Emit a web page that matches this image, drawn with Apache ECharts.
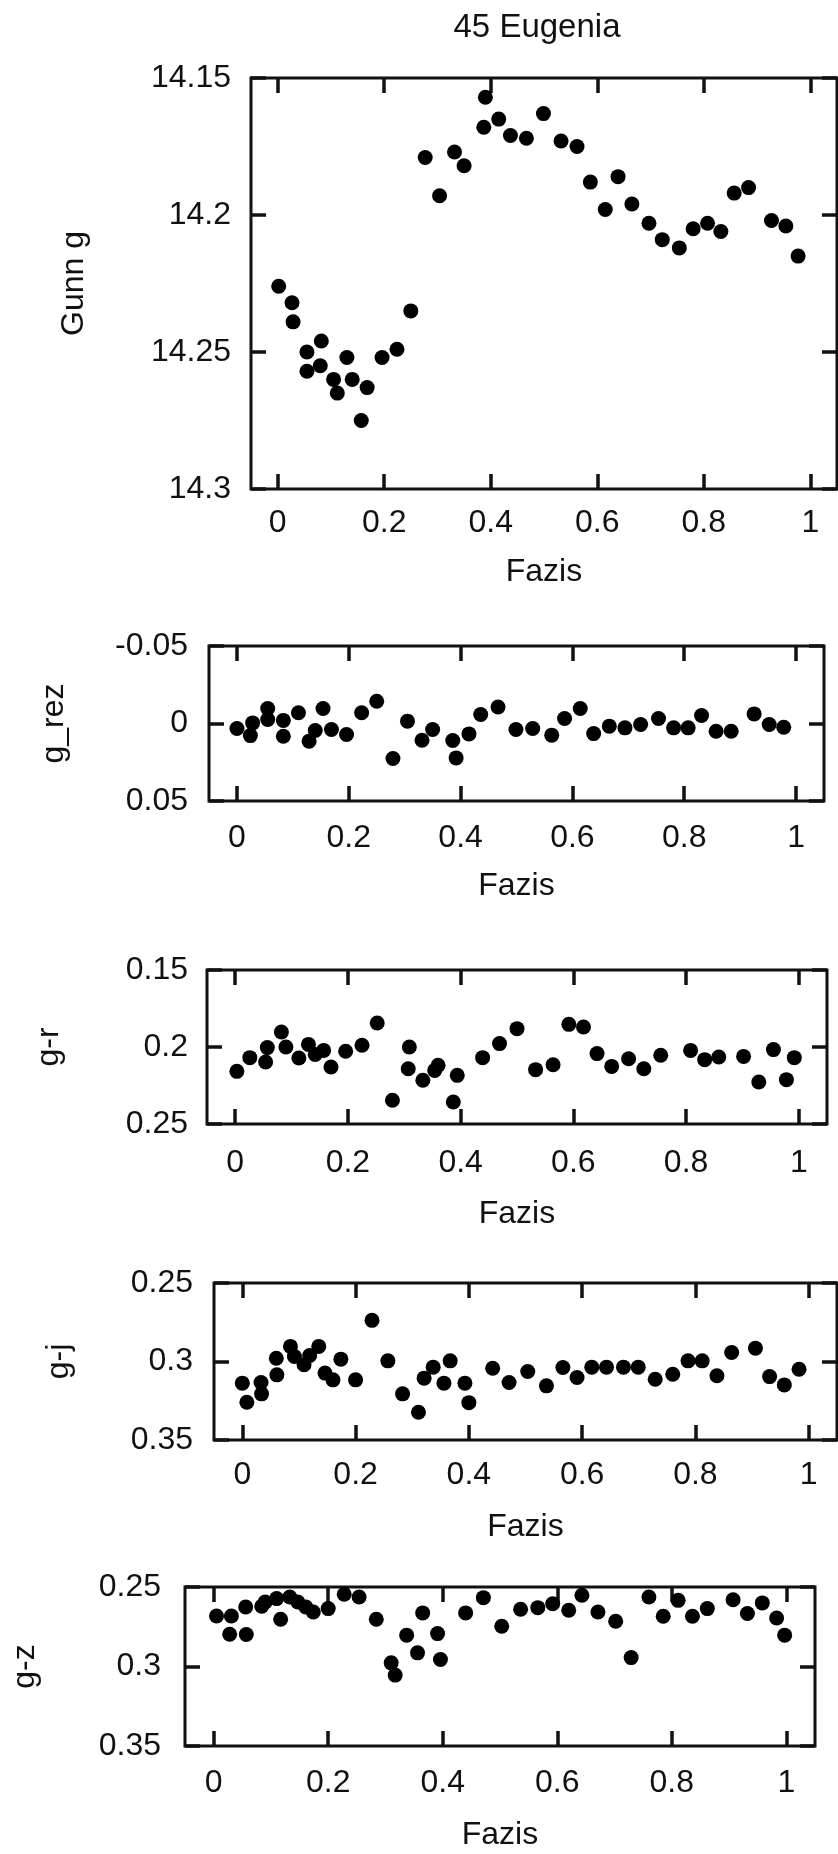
<!DOCTYPE html>
<html><head><meta charset="utf-8">
<script src="https://cdn.jsdelivr.net/npm/echarts@6/dist/echarts.min.js"></script>
<style>html,body{margin:0;padding:0;background:#fff}#c{width:838px;height:1854px}</style>
</head><body><div id="c"></div>
<script>
const titleText = '45 Eugenia';
const xName = 'Fazis';
const xTicks = [0, 0.2, 0.4, 0.6, 0.8, 1];

const phaseG = [0.002,0.027,0.029,0.055,0.055,0.080,0.082,0.105,0.112,0.130,0.140,0.157,0.168,0.196,0.224,0.250,0.277,0.304,0.332,0.350,0.387,0.390,0.415,0.437,0.467,0.499,0.532,0.562,0.587,0.615,0.639,0.665,0.697,0.722,0.754,0.780,0.807,0.832,0.857,0.884,0.927,0.954,0.977];
const gunnG = [14.226,14.232,14.239,14.250,14.257,14.255,14.246,14.260,14.265,14.252,14.260,14.275,14.263,14.252,14.249,14.235,14.179,14.193,14.177,14.182,14.168,14.157,14.165,14.171,14.172,14.163,14.173,14.175,14.188,14.198,14.186,14.196,14.203,14.209,14.212,14.205,14.203,14.206,14.192,14.190,14.202,14.204,14.215];

const phaseRez = [0.000,0.024,0.028,0.055,0.055,0.083,0.083,0.110,0.129,0.140,0.154,0.169,0.196,0.223,0.250,0.279,0.305,0.331,0.350,0.386,0.392,0.415,0.436,0.467,0.499,0.529,0.563,0.586,0.614,0.638,0.666,0.694,0.722,0.754,0.781,0.807,0.831,0.857,0.884,0.925,0.952,0.978];
const gRez = [0.0032,0.0078,-0.0004,-0.0097,-0.0026,0.0082,-0.0020,-0.0069,0.0114,0.0045,-0.0097,0.0039,0.0071,-0.0069,-0.0144,0.0226,-0.0015,0.0108,0.0039,0.0110,0.0222,0.0067,-0.0058,-0.0106,0.0039,0.0032,0.0075,-0.0032,-0.0097,0.0065,0.0017,0.0028,0.0006,-0.0032,0.0028,0.0028,-0.0052,0.0050,0.0050,-0.0062,0.0006,0.0024];

const phaseGR = [0.003,0.026,0.054,0.057,0.082,0.090,0.113,0.130,0.142,0.157,0.170,0.196,0.225,0.252,0.279,0.309,0.307,0.333,0.354,0.360,0.387,0.394,0.439,0.469,0.500,0.533,0.564,0.592,0.618,0.642,0.668,0.698,0.725,0.755,0.808,0.833,0.858,0.902,0.929,0.955,0.978,0.992];
const gr = [0.2158,0.2069,0.2097,0.2004,0.1903,0.2000,0.2071,0.1983,0.2048,0.2022,0.2130,0.2028,0.1989,0.1844,0.2346,0.2000,0.2141,0.2216,0.2152,0.2119,0.2357,0.2184,0.2069,0.1978,0.1881,0.2147,0.2115,0.1853,0.1870,0.2043,0.2126,0.2076,0.2141,0.2054,0.2022,0.2082,0.2065,0.2061,0.2227,0.2017,0.2212,0.2069];

const phaseGJ = [0.000,0.008,0.033,0.034,0.060,0.061,0.085,0.092,0.109,0.119,0.135,0.146,0.160,0.174,0.200,0.229,0.257,0.283,0.311,0.321,0.337,0.356,0.367,0.393,0.400,0.442,0.471,0.504,0.537,0.566,0.591,0.617,0.643,0.673,0.699,0.729,0.760,0.787,0.812,0.838,0.864,0.906,0.931,0.957,0.983];
const gj = [0.3138,0.3260,0.3134,0.3206,0.2979,0.3085,0.2904,0.2968,0.3021,0.2962,0.2904,0.3074,0.3117,0.2985,0.3117,0.2738,0.2996,0.3206,0.3323,0.3106,0.3036,0.3138,0.2996,0.3138,0.3262,0.3043,0.3134,0.3064,0.3155,0.3038,0.3102,0.3036,0.3036,0.3036,0.3036,0.3113,0.3081,0.2996,0.2996,0.3091,0.2943,0.2915,0.3096,0.3149,0.3049];

const phaseGZ = [0.005,0.031,0.028,0.056,0.057,0.084,0.090,0.110,0.117,0.133,0.147,0.161,0.174,0.200,0.228,0.254,0.284,0.310,0.317,0.337,0.356,0.365,0.391,0.396,0.440,0.471,0.503,0.536,0.566,0.592,0.620,0.643,0.671,0.702,0.729,0.760,0.785,0.811,0.836,0.862,0.907,0.932,0.958,0.983,0.997];
const gz = [0.2682,0.2682,0.2797,0.2626,0.2799,0.2621,0.2594,0.2573,0.2703,0.2563,0.2594,0.2626,0.2657,0.2636,0.2546,0.2563,0.2703,0.2977,0.3054,0.2803,0.2914,0.2663,0.2793,0.2956,0.2663,0.2567,0.2747,0.2640,0.2630,0.2605,0.2646,0.2552,0.2657,0.2715,0.2944,0.2563,0.2684,0.2584,0.2684,0.2636,0.2580,0.2667,0.2600,0.2695,0.2803];

const FONT = "'Liberation Sans', Arial, Helvetica, sans-serif";
const INK = '#111';

const panels = [
  {name:'Gunn g', xs:phaseG, ys:gunnG, min:14.15, max:14.3, interval:0.05,
   box:{left:251, top:78, width:586, height:411}, yLab:20, xLab:18, yGap:161, xGap:67},
  {name:'g_rez', xs:phaseRez, ys:gRez, min:-0.05, max:0.05, interval:0.05,
   box:{left:209, top:646, width:615, height:155}, yLab:21, xLab:21, yGap:139, xGap:69},
  {name:'g-r', xs:phaseGR, ys:gr, min:0.15, max:0.25, interval:0.05,
   box:{left:207, top:970, width:620, height:154}, yLab:19, xLab:23, yGap:142, xGap:74},
  {name:'g-j', xs:phaseGJ, ys:gj, min:0.25, max:0.35, interval:0.05,
   box:{left:214, top:1283, width:623, height:157}, yLab:21, xLab:19, yGap:139, xGap:71},
  {name:'g-z', xs:phaseGZ, ys:gz, min:0.25, max:0.35, interval:0.05,
   box:{left:185, top:1587, width:630, height:159}, yLab:24, xLab:21, yGap:144, xGap:73}
];

const grid = [], xAxis = [], yAxis = [], series = [];
const tickStyle = {show:true, inside:true, length:15, lineStyle:{color:INK, width:3.5}};
const hiddenLine = {show:false, onZero:false};
panels.forEach((p, i) => {
  grid.push(Object.assign({show:true, borderColor:INK, borderWidth:3, backgroundColor:'transparent'}, p.box));
  const xBase = {gridIndex:i, type:'value', min:-0.05, max:1.05, splitLine:{show:false}, axisLine:hiddenLine};
  xAxis.push(Object.assign({}, xBase, {
    position:'bottom', name:xName, nameLocation:'middle', nameGap:p.xGap,
    nameTextStyle:{fontSize:32, color:INK, fontFamily:FONT},
    axisTick:Object.assign({customValues:xTicks}, tickStyle),
    axisLabel:{customValues:xTicks, margin:p.xLab, fontSize:32, color:INK, fontFamily:FONT}
  }));
  xAxis.push(Object.assign({}, xBase, {
    position:'top', axisTick:Object.assign({customValues:xTicks}, tickStyle), axisLabel:{show:false}
  }));
  const yBase = {gridIndex:i, type:'value', min:p.min, max:p.max, interval:p.interval, inverse:true,
    splitLine:{show:false}, axisLine:hiddenLine};
  yAxis.push(Object.assign({}, yBase, {
    position:'left', name:p.name, nameLocation:'middle', nameGap:p.yGap, nameRotate:90,
    nameTextStyle:{fontSize:32, color:INK, fontFamily:FONT},
    axisTick:tickStyle,
    axisLabel:{margin:p.yLab, fontSize:32, color:INK, fontFamily:FONT}
  }));
  yAxis.push(Object.assign({}, yBase, {position:'right', axisTick:tickStyle, axisLabel:{show:false}}));
  series.push({
    type:'scatter', xAxisIndex:2*i, yAxisIndex:2*i, symbol:'circle', symbolSize:15,
    itemStyle:{color:'#000', opacity:1}, silent:true,
    data:p.xs.map((x, k) => [x, p.ys[k]])
  });
});

const chart = echarts.init(document.getElementById('c'), null, {renderer:'canvas'});
chart.setOption({
  animation:false,
  backgroundColor:'#fff',
  graphic:[{type:'text', x:537, y:28, style:{text:titleText, font:'33px ' + FONT, fill:INK, textAlign:'center', textVerticalAlign:'middle'}}],
  grid, xAxis, yAxis, series
});
</script></body></html>
